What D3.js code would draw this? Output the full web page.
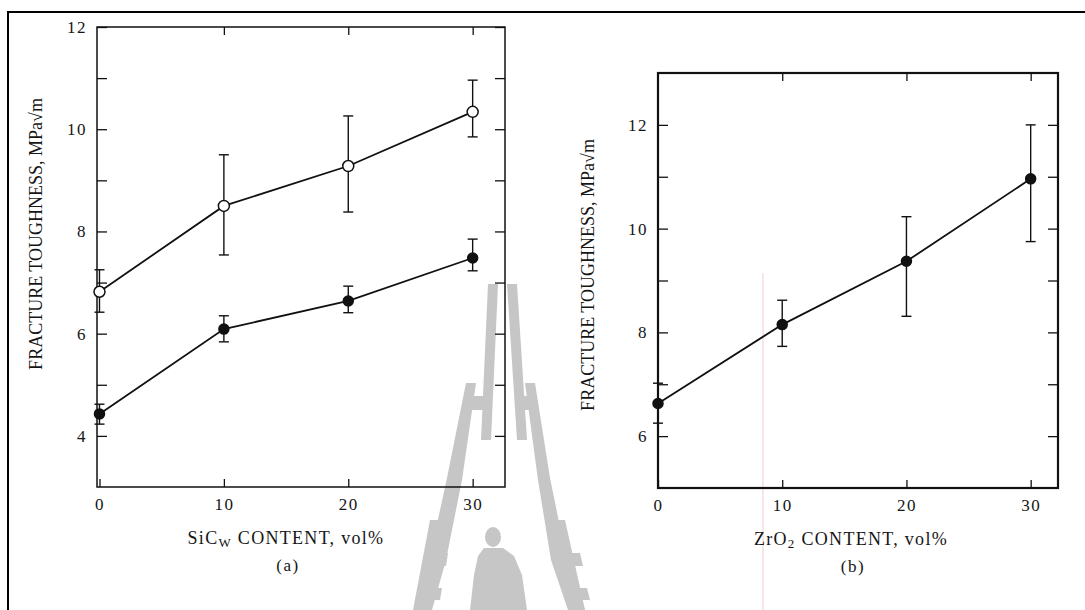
<!DOCTYPE html>
<html><head><meta charset="utf-8">
<script src="https://cdn.jsdelivr.net/npm/d3@7/dist/d3.min.js"></script>
<style>
html,body{margin:0;padding:0;background:#fff;}
text{font-family:"Liberation Serif","DejaVu Serif",serif;fill:#151515;}
</style></head>
<body><svg id="c" width="1085" height="610"></svg>
<script>
// ---------- data ----------
const contents = [0, 10, 20, 30];               // vol%
// panel (a): SiCw
const aOpen      = [6.82, 8.50, 9.28, 10.34];
const aOpenLow   = [6.42, 7.54, 8.38, 9.85];
const aOpenHigh  = [7.25, 9.50, 10.26, 10.96];
const aFilled     = [4.43, 6.09, 6.64, 7.48];
const aFilledLow  = [4.23, 5.84, 6.41, 7.23];
const aFilledHigh = [4.62, 6.35, 6.93, 7.85];
// panel (b): ZrO2
const bFilled     = [6.63, 8.15, 9.37, 10.96];
const bFilledLow  = [6.25, 7.73, 8.31, 9.75];
const bFilledHigh = [7.02, 8.62, 10.23, 12.00];
// ticks
const xTicks = [0, 10, 20, 30];
const aYTicks = [4, 5, 6, 7, 8, 9, 10, 11, 12];
const aYLabels = [4, 6, 8, 10, 12];
const bYTicks = [6, 7, 8, 9, 10, 11, 12];
const bYLabels = [6, 8, 10, 12];
const yTitle = "FRACTURE TOUGHNESS, MPa\u221Am";

const svg = d3.select("#c");
svg.append("rect").attr("width",1085).attr("height",610).attr("fill","#fff");

// ---------- watermark (light gray logo) ----------
const wm = svg.append("g").attr("fill","#c6c6c6");
const poly = pts => wm.append("path").attr("d", d3.line().curve(d3.curveLinear)(pts) + "Z");
poly([[488,284],[498,284],[491,440],[481,440]]);
poly([[507,284],[517,284],[527,440],[517,440]]);
poly([[466,383],[476,383],[462,480],[446,560],[432,610],[415,610],[430,556],[447,478]]);
poly([[525,383],[535,383],[550,478],[566,556],[585,610],[568,610],[551,560],[538,480]]);
poly([[472,396],[486,396],[486,410],[471,410]]);
poly([[520,396],[532,396],[533,410],[521,410]]);
poly([[430,520],[443,520],[427,610],[413,610]]);
poly([[552,520],[565,520],[585,610],[571,610]]);
poly([[425,553],[448,553],[446,566],[423,566]]);
poly([[557,553],[580,553],[583,566],[560,566]]);
poly([[419,588],[442,588],[440,600],[417,600]]);
poly([[563,588],[587,588],[590,600],[566,600]]);
wm.append("ellipse").attr("cx",493).attr("cy",537).attr("rx",8).attr("ry",10);
poly([[484,548],[503,548],[514,556],[522,575],[527,610],[470,610],[474,575],[478,556]]);

// faint scan line
svg.append("line").attr("x1",763).attr("x2",763).attr("y1",273).attr("y2",610)
  .attr("stroke","#f2cccc").attr("stroke-width",1);

// outer border (top + left)
svg.append("path").attr("d","M8,610 L8,12 L1085,12").attr("fill","none")
  .attr("stroke","#000").attr("stroke-width",2);

function panel(opt){
  const g = svg.append("g");
  const x = d3.scaleLinear().domain(opt.xDom).range([opt.left, opt.right]);
  const y = d3.scaleLinear().domain(opt.yDom).range([opt.bottom, opt.top]);
  const fmtY = d => opt.yLabels.includes(d) ? String(d) : "";
  const styleAxis = (sel, fs) => {
    sel.select(".domain").remove();
    sel.selectAll(".tick line").attr("stroke","#111").attr("stroke-width",1.3);
    sel.selectAll(".tick text").attr("font-size",fs).attr("fill","#151515")
       .attr("font-family","Liberation Serif").attr("letter-spacing","1.5px");
  };
  g.append("g").attr("transform",`translate(${opt.left},0)`)
    .call(d3.axisLeft(y).tickValues(opt.yTicksAll).tickFormat(fmtY).tickSize(-10).tickPadding(10))
    .call(s=>styleAxis(s,17));
  g.append("g").attr("transform",`translate(${opt.right},0)`)
    .call(d3.axisRight(y).tickValues(opt.yTicksAll).tickFormat("").tickSize(-10))
    .call(s=>styleAxis(s,17));
  g.append("g").attr("transform",`translate(0,${opt.bottom})`)
    .call(d3.axisBottom(x).tickValues(xTicks).tickFormat(d3.format("d")).tickSize(-8).tickPadding(11))
    .call(s=>styleAxis(s,17));
  g.append("g").attr("transform",`translate(0,${opt.top})`)
    .call(d3.axisTop(x).tickValues(xTicks.filter(v=>v>0)).tickFormat("").tickSize(-8))
    .call(s=>styleAxis(s,17));
  g.append("rect").attr("x",opt.left).attr("y",opt.top)
    .attr("width",opt.right-opt.left).attr("height",opt.bottom-opt.top)
    .attr("fill","none").attr("stroke","#111").attr("stroke-width",opt.frameW);
  opt.series.forEach(s=>{
    const pts = contents.map((c,i)=>({x:c, v:s.v[i], lo:s.lo[i], hi:s.hi[i]}));
    const eb = g.append("g").attr("stroke","#111").attr("stroke-width",1.4);
    pts.forEach(p=>{
      eb.append("line").attr("x1",x(p.x)).attr("x2",x(p.x)).attr("y1",y(p.lo)).attr("y2",y(p.hi));
      eb.append("line").attr("x1",x(p.x)-5).attr("x2",x(p.x)+5).attr("y1",y(p.lo)).attr("y2",y(p.lo));
      eb.append("line").attr("x1",x(p.x)-5).attr("x2",x(p.x)+5).attr("y1",y(p.hi)).attr("y2",y(p.hi));
    });
    g.append("path").datum(pts).attr("fill","none").attr("stroke","#111").attr("stroke-width",1.8)
      .attr("d", d3.line().x(p=>x(p.x)).y(p=>y(p.v)));
    g.selectAll(null).data(pts).join("circle")
      .attr("cx",p=>x(p.x)).attr("cy",p=>y(p.v)).attr("r",s.open?5.5:5)
      .attr("fill",s.open?"#fff":"#111").attr("stroke","#111").attr("stroke-width",1.5);
  });
  g.append("text").attr("transform",`translate(${opt.yTitleX},${opt.yTitleY}) rotate(-90)`)
    .attr("text-anchor","middle").attr("dominant-baseline","central")
    .attr("font-size",18).text(yTitle);
  const xt = g.append("text").attr("x",opt.xTitleX).attr("y",opt.xTitleY)
    .attr("text-anchor","middle").attr("font-size",18).attr("letter-spacing","1.3px");
  xt.append("tspan").text(opt.xTitle[0]);
  xt.append("tspan").attr("font-size",13).attr("dy",3).text(opt.xTitle[1]);
  xt.append("tspan").attr("dy",-3).text(opt.xTitle[2]);
  g.append("text").attr("x",opt.xTitleX+2).attr("y",opt.xTitleY+27)
    .attr("text-anchor","middle").attr("font-size",17).attr("letter-spacing","1.5px").text(opt.tag);
}

panel({
  xDom:[-0.2,32.6], yDom:[3,12], left:97, right:505, top:27, bottom:487, frameW:1.5,
  yTicksAll:aYTicks, yLabels:aYLabels,
  series:[
    {v:aOpen, lo:aOpenLow, hi:aOpenHigh, open:true},
    {v:aFilled, lo:aFilledLow, hi:aFilledHigh, open:false}
  ],
  yTitleX:36, yTitleY:234, xTitleX:286, xTitleY:544,
  xTitle:["SiC","W"," CONTENT, vol%"], tag:"(a)"
});
panel({
  xDom:[0,32.2], yDom:[5,13], left:658, right:1058, top:73, bottom:488, frameW:2.2,
  yTicksAll:bYTicks, yLabels:bYLabels,
  series:[
    {v:bFilled, lo:bFilledLow, hi:bFilledHigh, open:false}
  ],
  yTitleX:588, yTitleY:275, xTitleX:851, xTitleY:545,
  xTitle:["ZrO","2"," CONTENT, vol%"], tag:"(b)"
});
</script></body></html>
